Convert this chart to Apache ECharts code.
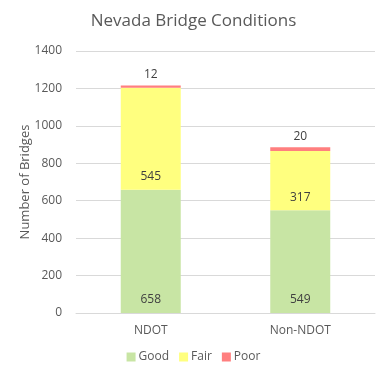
<!DOCTYPE html>
<html>
<head>
<meta charset="utf-8">
<script src="https://cdn.jsdelivr.net/npm/echarts@6/dist/echarts.min.js"></script>
<style>
html, body { margin: 0; padding: 0; background: #fff; }
#chart { width: 387px; height: 376px; }
</style>
</head>
<body>
<div id="chart"></div>
<script>
var categories = ['NDOT', 'Non-NDOT'];
var goodData = [658, 549];
var fairData = [545, 317];
var poorData = [12, 20];

var fontFam = '"Open Sans", "DejaVu Sans", sans-serif';
var labelStyle = { show: true, color: '#404040', fontSize: 12, fontFamily: fontFam };

var chart = echarts.init(document.getElementById('chart'));
chart.setOption({
  animation: false,
  backgroundColor: '#fff',
  title: {
    text: 'Nevada Bridge Conditions',
    left: 'center',
    top: 8,
    textStyle: { color: '#595959', fontSize: 17, fontWeight: 'normal', fontFamily: fontFam }
  },
  legend: {
    bottom: 8,
    left: 'center',
    itemWidth: 9,
    itemHeight: 9,
    itemGap: 10,
    icon: 'rect',
    textStyle: { color: '#595959', fontSize: 12, fontFamily: fontFam, padding: [0, 0, 0, -2] },
    data: ['Good', 'Fair', 'Poor']
  },
  grid: { left: 76, right: 12, top: 51, bottom: 63 },
  xAxis: {
    type: 'category',
    data: categories,
    axisLine: { lineStyle: { color: '#D9D9D9' } },
    axisTick: { show: false },
    axisLabel: { color: '#595959', fontSize: 12, fontFamily: fontFam, margin: 12 }
  },
  yAxis: {
    type: 'value',
    min: 0,
    max: 1400,
    interval: 200,
    name: 'Number of Bridges',
    nameLocation: 'middle',
    nameGap: 44,
    nameMoveOverlap: false,
    nameTextStyle: { color: '#595959', fontSize: 13, fontFamily: fontFam },
    axisLine: { show: false },
    axisTick: { show: false },
    axisLabel: {
      color: '#595959', fontSize: 12, fontFamily: fontFam, margin: 14,
      formatter: function (v) { return String(v); }
    },
    splitLine: { lineStyle: { color: '#D9D9D9' } }
  },
  series: [
    {
      name: 'Good', type: 'bar', stack: 'a', data: goodData, barWidth: 60,
      itemStyle: { color: '#C8E5A4' },
      label: Object.assign({ position: 'insideBottom', distance: 7 }, labelStyle)
    },
    {
      name: 'Fair', type: 'bar', stack: 'a', data: fairData,
      itemStyle: { color: '#FFFF7F' },
      label: Object.assign({ position: 'insideBottom', distance: 7 }, labelStyle)
    },
    {
      name: 'Poor', type: 'bar', stack: 'a', data: poorData,
      itemStyle: { color: '#FF7F7F' },
      label: Object.assign({ position: 'top', distance: 5 }, labelStyle)
    }
  ]
});
</script>
</body>
</html>
